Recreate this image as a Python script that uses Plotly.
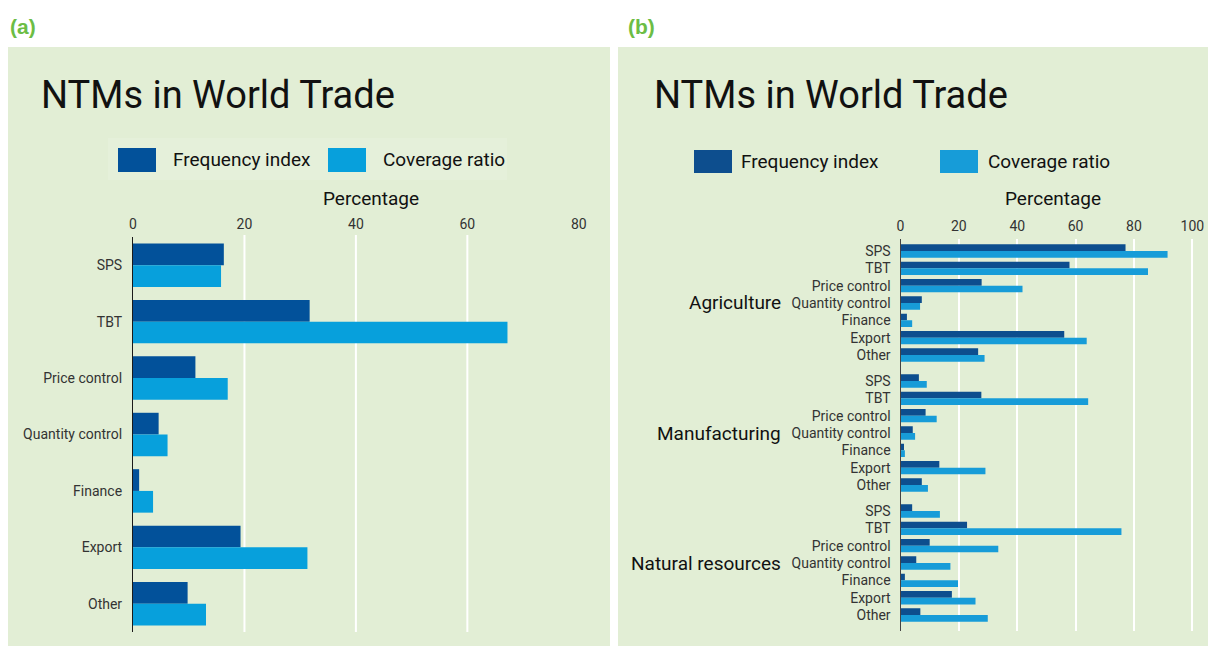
import plotly.graph_objects as go

# ---- data -------------------------------------------------------------
measures = ["SPS", "TBT", "Price control", "Quantity control", "Finance", "Export", "Other"]

# Panel (a): all sectors
world_frequency = [16.3, 31.7, 11.2, 4.6, 1.1, 19.3, 9.8]
world_coverage = [15.8, 67.2, 17.0, 6.2, 3.6, 31.3, 13.1]

# Panel (b): by sector
sectors = ["Agriculture", "Manufacturing", "Natural resources"]
agri_frequency = [77.1, 57.9, 27.8, 7.3, 2.2, 56.1, 26.6]
agri_coverage = [91.5, 84.8, 41.8, 6.7, 4.0, 63.8, 28.8]
manu_frequency = [6.3, 27.7, 8.6, 4.2, 1.2, 13.3, 7.3]
manu_coverage = [9.0, 64.3, 12.4, 5.0, 1.5, 29.1, 9.4]
natres_frequency = [4.0, 22.8, 10.0, 5.4, 1.5, 17.6, 6.8]
natres_coverage = [13.5, 75.7, 33.5, 17.1, 19.7, 25.7, 29.9]

ticks_a = [0, 20, 40, 60, 80]
ticks_b = [0, 20, 40, 60, 80, 100]

# ---- styling ----------------------------------------------------------
W, H = 1208, 646
FONT = "Roboto, 'Open Sans', sans-serif"
BG = "#e2eed5"
GREEN = "#6cbd45"
FREQ_A, COV_A = "#02519a", "#07a0dc"
FREQ_B, COV_B = "#0d4e8e", "#179cd8"
TXT = "#111111"
TICK = "#333333"


def px(x):
    return x / W


def py(y):
    return 1 - y / H


# sector rows are spaced 1 apart, with an extra half row between sectors
sector_step = len(measures) + 0.5
rows_b, labels_b, sector_centres = [], [], []
for s_i, _ in enumerate(sectors):
    base = s_i * sector_step
    rows_b += [base + k for k in range(len(measures))]
    labels_b += measures
    sector_centres.append(base + (len(measures) - 1) / 2)

freq_b = agri_frequency + manu_frequency + natres_frequency
cov_b = agri_coverage + manu_coverage + natres_coverage

fig = go.Figure()

# panel (a)
fig.add_trace(go.Bar(y=measures, x=world_frequency, orientation="h", name="Frequency index",
                     marker=dict(color=FREQ_A, line=dict(width=0)), xaxis="x", yaxis="y",
                     showlegend=False))
fig.add_trace(go.Bar(y=measures, x=world_coverage, orientation="h", name="Coverage ratio",
                     marker=dict(color=COV_A, line=dict(width=0)), xaxis="x", yaxis="y",
                     showlegend=False))
# panel (b)
fig.add_trace(go.Bar(y=rows_b, x=freq_b, orientation="h", name="Frequency index",
                     marker=dict(color=FREQ_B, line=dict(width=0)), xaxis="x2", yaxis="y2",
                     showlegend=False))
fig.add_trace(go.Bar(y=rows_b, x=cov_b, orientation="h", name="Coverage ratio",
                     marker=dict(color=COV_B, line=dict(width=0)), xaxis="x2", yaxis="y2",
                     showlegend=False))

shapes = [
    # panel backgrounds
    dict(type="rect", xref="paper", yref="paper", x0=px(8), x1=px(610), y0=py(646), y1=py(47),
         fillcolor=BG, line=dict(width=0), layer="below"),
    dict(type="rect", xref="paper", yref="paper", x0=px(618), x1=px(1208), y0=py(646), y1=py(47),
         fillcolor=BG, line=dict(width=0), layer="below"),
    # faint legend box in panel (a)
    dict(type="rect", xref="paper", yref="paper", x0=px(108), x1=px(507), y0=py(180), y1=py(138),
         fillcolor="#e5f0da", line=dict(width=0), layer="below"),
]
# vertical grid lines of panel (a) (none at the last tick)
for t in ticks_a[1:-1]:
    shapes.append(dict(type="line", xref="x", yref="y domain", x0=t, x1=t, y0=0, y1=1.005,
                       line=dict(color="white", width=2), layer="below"))

annotations = []


def add_legend(sw_freq, tx_freq, sw_cov, tx_cov, y_top, y_bot, c_freq, c_cov):
    for x0, tx, colour, label in ((sw_freq, tx_freq, c_freq, "Frequency index"),
                                  (sw_cov, tx_cov, c_cov, "Coverage ratio")):
        shapes.append(dict(type="rect", xref="paper", yref="paper", x0=px(x0), x1=px(x0 + 38),
                           y0=py(y_bot), y1=py(y_top), fillcolor=colour, line=dict(width=0)))
        annotations.append(dict(text=label, xref="paper", yref="paper", x=px(tx),
                                y=py((y_top + y_bot) / 2), xanchor="left", yanchor="middle",
                                showarrow=False, font=dict(family=FONT, size=19, color=TXT)))


add_legend(118, 171, 328, 381, 148, 172, FREQ_A, COV_A)
add_legend(694, 739, 940, 986, 150, 173, FREQ_B, COV_B)

for label, x in (("(a)", 8), ("(b)", 626)):
    annotations.append(dict(text="<b>" + label + "</b>", xref="paper", yref="paper", x=px(x),
                            y=py(26), xanchor="left", yanchor="middle", showarrow=False,
                            font=dict(family="'Liberation Sans', Arial, sans-serif", size=21,
                                      color=GREEN)))

for x in (39, 652):
    annotations.append(dict(text="NTMs in World Trade", xref="paper", yref="paper", x=px(x),
                            y=py(95), xanchor="left", yanchor="middle", showarrow=False,
                            font=dict(family=FONT, size=38, color=TXT)))

for x in (371, 1053):
    annotations.append(dict(text="Percentage", xref="paper", yref="paper", x=px(x), y=py(198),
                            xanchor="center", yanchor="middle", showarrow=False,
                            font=dict(family=FONT, size=19, color=TXT)))

for name, centre in zip(sectors, sector_centres):
    annotations.append(dict(text=name, xref="paper", yref="y2", x=px(783), y=centre,
                            xanchor="right", yanchor="middle", showarrow=False,
                            font=dict(family=FONT, size=19, color=TXT)))

tickfont = dict(family=FONT, size=14, color=TICK)

fig.update_layout(
    width=W, height=H,
    margin=dict(l=0, r=0, t=0, b=0, autoexpand=False),
    paper_bgcolor="white",
    plot_bgcolor="rgba(0,0,0,0)",
    barmode="group",
    bargap=0.23,
    bargroupgap=0,
    showlegend=False,
    shapes=shapes,
    annotations=annotations,
    xaxis=dict(domain=[px(133), px(610)], range=[0, 85.6], side="top", anchor="y",
               tickvals=ticks_a, showgrid=False, zeroline=False, showline=False,
               tickfont=tickfont, ticks="", ticklabelstandoff=4, fixedrange=True,
               automargin=False),
    yaxis=dict(domain=[py(632), py(237)], autorange="reversed", anchor="x",
               showline=True, linecolor="#1a1a1a", linewidth=1.2, showgrid=False,
               ticks="", tickfont=tickfont, ticklabelstandoff=7, fixedrange=True,
               automargin=False),
    xaxis2=dict(domain=[px(900.5), px(1205.5)], range=[0, 104.5], side="top", anchor="y2",
                tickvals=ticks_b, showgrid=True, gridcolor="white", gridwidth=1.6,
                zeroline=False, showline=False, tickfont=tickfont, ticks="",
                ticklabelstandoff=4, fixedrange=True, automargin=False),
    yaxis2=dict(domain=[py(631), py(239)], range=[rows_b[-1] + 0.92, -0.69], anchor="x2",
                tickvals=rows_b, ticktext=labels_b, showline=True, linecolor="#444444",
                linewidth=1.2, showgrid=False, zeroline=False, ticks="",
                tickfont=tickfont, ticklabelstandoff=6, fixedrange=True, automargin=False),
)

fig.write_html("out.html")
